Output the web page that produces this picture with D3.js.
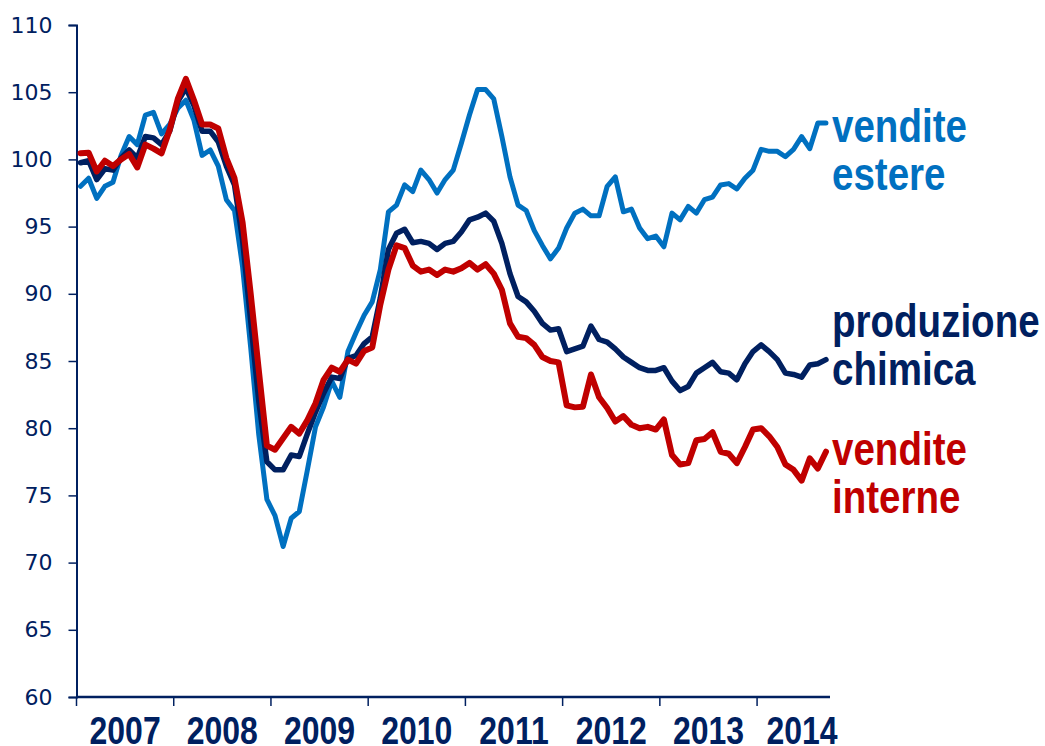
<!DOCTYPE html>
<html>
<head>
<meta charset="utf-8">
<script src="https://cdn.jsdelivr.net/npm/d3@7"></script>
<style>
  body { margin: 0; background: #fff; }
  svg { display: block; }
</style>
</head>
<body>
<svg class="chart" width="1045" height="746"></svg>
<script>
// monthly index, Jan 2007 - Sep 2014
var years = [2007, 2008, 2009, 2010, 2011, 2012, 2013, 2014];
var yTicks = [60, 65, 70, 75, 80, 85, 90, 95, 100, 105, 110];

var estere = [
  98.0, 98.6, 97.1, 98.0, 98.3, 100.3, 101.7, 101.1, 103.3, 103.5, 101.9, 102.6,
  103.8, 104.4, 102.9, 100.3, 100.7, 99.5, 97.0, 96.2, 92.0, 86.0, 79.5, 74.7,
  73.5, 71.2, 73.3, 73.8, 76.9, 80.1, 81.6, 83.5, 82.3, 85.7, 87.1, 88.4,
  89.4, 91.8, 96.1, 96.6, 98.1, 97.6, 99.2, 98.5, 97.5, 98.5, 99.2, 101.2,
  103.3, 105.2, 105.2, 104.5, 101.7, 98.7, 96.6, 96.2, 94.7, 93.6, 92.6, 93.4,
  94.9, 96.0, 96.3, 95.8, 95.8, 98.0, 98.7, 96.1, 96.3, 94.9, 94.1, 94.3,
  93.5, 96.0, 95.5, 96.5, 96.0, 97.0, 97.2, 98.1, 98.2, 97.8, 98.6, 99.2,
  100.75, 100.6, 100.6, 100.2, 100.75, 101.7, 100.8, 102.7, 102.7
];
var produzione = [
  99.75, 99.9, 98.5, 99.3, 99.2, 100.1, 100.7, 100.1, 101.7, 101.6, 101.1, 102.1,
  104.3, 105.3, 104.0, 102.1, 102.1, 101.3, 99.5, 98.1, 94.0, 88.0, 82.0, 77.5,
  76.9, 76.9, 78.0, 77.9, 79.6, 81.2, 82.6, 83.8, 83.7, 85.2, 85.4, 86.3,
  86.8, 89.7, 93.3, 94.5, 94.8, 93.8, 93.9, 93.75, 93.3, 93.75, 93.9, 94.6,
  95.5, 95.7, 96.0, 95.4, 93.75, 91.5, 89.8, 89.4, 88.7, 87.8, 87.3, 87.4,
  85.7, 85.9, 86.1, 87.6, 86.6, 86.4, 85.9, 85.3, 84.9, 84.5, 84.3, 84.3,
  84.5, 83.5, 82.8, 83.1, 84.1, 84.5, 84.9, 84.2, 84.1, 83.6, 84.8, 85.7,
  86.2, 85.7, 85.1, 84.1, 84.0, 83.8, 84.7, 84.8, 85.1
];
var interne = [
  100.45, 100.5, 99.1, 99.9, 99.5, 100.0, 100.4, 99.4, 101.1, 100.8, 100.45, 102.2,
  104.5, 106.0, 104.4, 102.6, 102.6, 102.3, 100.1, 98.6, 95.3, 90.0, 84.3, 78.7,
  78.4, 79.25, 80.1, 79.6, 80.6, 81.85, 83.6, 84.5, 84.2, 85.1, 84.8, 85.75,
  86.0, 89.2, 91.8, 93.6, 93.4, 92.1, 91.65, 91.8, 91.4, 91.8, 91.65, 91.9,
  92.3, 91.8, 92.2, 91.5, 90.3, 87.8, 86.8, 86.7, 86.2, 85.3, 85.0, 84.9,
  81.7, 81.55, 81.6, 84.0, 82.3, 81.5, 80.5, 80.9, 80.25, 80.0, 80.1, 79.9,
  80.65, 78.0, 77.3, 77.4, 79.1, 79.2, 79.7, 78.25, 78.1, 77.4, 78.6, 79.9,
  80.0, 79.4, 78.6, 77.3, 76.9, 76.1, 77.75, 77.0, 78.25
];

var navy = "#002060", blue = "#0070c0", red = "#c00000";
// no narrow face installed: squeeze Liberation Sans Bold to Arial Narrow width
var narrowFont = "Liberation Sans, Arial, sans-serif", squeeze = 0.82;

var svg = d3.select(".chart");

var months = d3.range(estere.length);

var x = d3.scalePoint()
    .domain(months)
    .range([76.5, 830])
    .padding(0.5);

var step = x.step();

var y = d3.scaleLinear()
    .domain([60, 110])
    .range([697, 25]);

// y axis
var gy = svg.append("g")
    .attr("transform", "translate(76.5,0)")
    .call(d3.axisLeft(y).tickValues(yTicks).tickSize(8).tickPadding(16));
gy.select(".domain").attr("stroke", navy).attr("stroke-width", 2);
gy.selectAll(".tick line").attr("stroke", navy).attr("stroke-width", 1.5);
gy.selectAll(".tick text")
    .attr("fill", navy)
    .attr("font-family", "DejaVu Sans, Verdana, sans-serif")
    .attr("font-size", 22);

// x axis: ticks at year boundaries
var yearStart = function(i) { return 76.5 + i * 12 * step; };

svg.append("line")
    .attr("x1", 76.5).attr("x2", 830)
    .attr("y1", 697).attr("y2", 697)
    .attr("stroke", navy).attr("stroke-width", 2.5);

svg.selectAll(".ytick")
    .data(years)
  .enter().append("line")
    .attr("class", "ytick")
    .attr("x1", function(d, i) { return yearStart(i); })
    .attr("x2", function(d, i) { return yearStart(i); })
    .attr("y1", 697).attr("y2", 706)
    .attr("stroke", navy).attr("stroke-width", 1.5);

svg.selectAll(".ylabel")
    .data(years)
  .enter().append("text")
    .attr("class", "ylabel")
    .attr("transform", function(d, i) {
      var cx = Math.min(yearStart(i) + 6 * step, 802);
      return "translate(" + cx + ",744) scale(" + squeeze + ",1)";
    })
    .attr("text-anchor", "middle")
    .attr("fill", navy)
    .attr("font-family", narrowFont)
    .attr("font-weight", "bold")
    .attr("font-size", 39)
    .text(function(d) { return d; });

// lines
var line = d3.line()
    .x(function(d, i) { return x(i); })
    .y(function(d) { return y(d); });

var series = [
  { values: estere, color: blue, width: 5 },
  { values: produzione, color: navy, width: 5.5 },
  { values: interne, color: red, width: 6 }
];

svg.selectAll(".serie")
    .data(series)
  .enter().append("path")
    .attr("class", "serie")
    .attr("fill", "none")
    .attr("stroke", function(d) { return d.color; })
    .attr("stroke-width", function(d) { return d.width; })
    .attr("stroke-linejoin", "round")
    .attr("stroke-linecap", "round")
    .attr("d", function(d) { return line(d.values); });

// series labels
var labels = [
  { text: "vendite", y: 142, color: blue },
  { text: "estere", y: 190, color: blue },
  { text: "produzione", y: 337, color: navy },
  { text: "chimica", y: 385, color: navy },
  { text: "vendite", y: 465, color: red },
  { text: "interne", y: 513, color: red }
];

svg.selectAll(".lab")
    .data(labels)
  .enter().append("text")
    .attr("class", "lab")
    .attr("transform", function(d) {
      return "translate(832," + d.y + ") scale(" + squeeze + ",1)";
    })
    .attr("fill", function(d) { return d.color; })
    .attr("font-family", narrowFont)
    .attr("font-weight", "bold")
    .attr("font-size", 47)
    .text(function(d) { return d.text; });
</script>
</body>
</html>
